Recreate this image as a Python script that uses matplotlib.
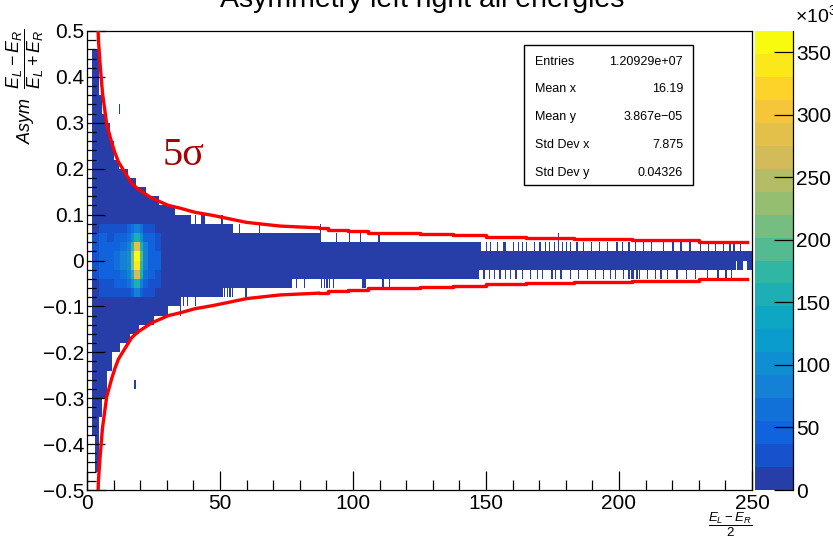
import numpy as np
import matplotlib
matplotlib.use("Agg")
import matplotlib.pyplot as plt
from matplotlib.colors import ListedColormap, BoundaryNorm, LinearSegmentedColormap
from matplotlib.patches import Rectangle

plt.rcParams['font.family'] = ['Liberation Sans', 'DejaVu Sans']
plt.rcParams['mathtext.fontset'] = 'custom'
plt.rcParams['mathtext.rm'] = 'Liberation Sans'
plt.rcParams['mathtext.it'] = 'Liberation Sans:italic'
plt.rcParams['mathtext.bf'] = 'Liberation Sans:bold'

# ---------------- data ----------------
title = "Asymmetry left right all energies"
x_lo, x_hi, x_bin = 0.0, 250.0, 0.5
y_lo, y_hi, y_bin = -0.5, 0.5, 0.02
z_max = 367.0          # colour scale top (x10^3)

# occupied band: upper edge steps (x start, edge value)
top_x = [2.0, 4.3, 5.5, 7.0, 8.6, 10.2, 11.8, 15.5, 18.7, 21.8, 27.0, 33.0, 38.5, 55.0, 88.0, 147.5]
top_y = [0.46, 0.36, 0.32, 0.30, 0.26, 0.22, 0.20, 0.18, 0.16, 0.14, 0.12, 0.10, 0.08, 0.06, 0.04, 0.02]
# lower edge steps
bot_x = [2.0, 2.8, 4.3, 5.5, 7.4, 9.3, 12.4, 16.2, 19.3, 24.9, 30.6, 35.6, 50.7, 76.4, 147.5]
bot_y = [-0.38, -0.46, -0.34, -0.30, -0.24, -0.20, -0.18, -0.16, -0.14, -0.12, -0.10, -0.08, -0.06, -0.04, -0.02]

# isolated one-bin excursions beyond the edges
spike_up_x = [38.8, 40.6, 43.1, 43.6, 44.4, 50.7, 57.2, 64.7, 87.6, 93.5, 98.9, 102.6, 109.8,
              147.7, 150.0, 151.5, 154.0, 156.7, 157.3, 160.3, 162.0, 163.5, 165.4, 168.0,
              170.4, 172.0, 173.6, 175.5, 178.5, 180.0, 181.7, 184.0, 186.7, 189.5, 192.5,
              195.5, 199.0, 201.0, 203.5, 206.0, 209.2, 212.0, 216.5, 220.0, 223.0, 226.5,
              230.5, 233.5, 236.1, 239.0, 241.8, 243.0, 245.5]
tall_up_x = [177.3]
spike_dn_x = [35.2, 36.0, 37.5, 40.6, 50.9, 51.5, 52.5, 53.5, 54.5, 59.6, 76.7, 78.9, 81.6,
              88.3, 89.0, 90.0, 91.0, 92.6, 103.5, 104.0, 104.8, 111.4, 113.9, 149.0, 151.0,
              153.0, 155.3, 157.3, 159.2, 161.0, 163.5, 166.7, 169.2, 171.0, 174.5, 176.0,
              178.0, 181.7, 184.5, 188.0, 191.0, 194.0, 196.5, 198.5, 201.5, 203.7, 204.5,
              205.3, 206.8, 207.5, 210.5, 213.6, 215.5, 218.0, 221.5, 225.0, 228.5, 233.0,
              237.0, 240.0, 242.4]
notch_x = [244.0, 246.5, 247.0, 247.5]
stray_x = [12.0, 17.5, 18.0]
stray_y = [0.33, -0.27, -0.27]
background_k = 5.0

# dense core (counts x10^3): x groups and y rows (bin centres)
hot_x_edges = [2.0, 4.5, 7.5, 10.0, 12.5, 15.0, 16.5, 17.5, 20.0, 21.0, 23.0, 25.5, 28.0]
hot_y_rows = [0.07, 0.05, 0.03, 0.01, -0.01, -0.03, -0.05, -0.07]
hot_counts_k = [
    [10, 30, 25, 25, 30, 40, 60, 90, 60, 35, 25, 15],
    [25, 40, 35, 40, 45, 60, 110, 160, 100, 55, 40, 25],
    [30, 42, 45, 55, 65, 90, 170, 290, 160, 75, 50, 35],
    [30, 42, 50, 60, 75, 110, 220, 355, 190, 85, 55, 38],
    [30, 42, 50, 60, 75, 110, 210, 345, 180, 85, 55, 38],
    [25, 40, 45, 55, 65, 90, 160, 270, 150, 70, 45, 30],
    [10, 30, 35, 40, 45, 60, 100, 150, 90, 50, 35, 20],
    [5, 25, 20, 20, 25, 35, 50, 80, 45, 30, 20, 12],
]

# 5 sigma band half width
red_smooth_x = [4.0, 4.3, 4.9, 5.8, 7.4, 9.3, 10.5, 11.8, 15.5, 16.8, 19.3, 24.3, 30.6, 35.0,
                40.6, 47.5, 60.0, 72.6, 87.6]
red_smooth_h = [0.53, 0.48, 0.43, 0.366, 0.297, 0.257, 0.235, 0.215, 0.18, 0.168, 0.155, 0.136,
                0.12, 0.114, 0.105, 0.098, 0.083, 0.075, 0.071]
red_step_x = [87.6, 90.6, 98.0, 105.6, 115.0, 125.0, 137.6, 150.0, 165.0, 183.0, 205.0, 230.0, 248.0]
red_step_h = [0.071, 0.067, 0.064, 0.061, 0.0595, 0.057, 0.055, 0.052, 0.049, 0.047, 0.045, 0.041, 0.041]

stat_names = ["Entries", "Mean x", "Mean y", "Std Dev x", "Std Dev y"]
stat_values = ["1.20929e+07", "16.19", "3.867e\u221205", "7.875", "0.04326"]

cbar_ticks = [0, 50, 100, 150, 200, 250, 300, 350]
x_ticks = [0, 50, 100, 150, 200, 250]
y_ticks = [-0.5, -0.4, -0.3, -0.2, -0.1, 0.0, 0.1, 0.2, 0.3, 0.4, 0.5]

# ---------------- histogram grid ----------------
xe = np.arange(x_lo, x_hi + x_bin / 2, x_bin)
ye = np.round(np.arange(y_lo, y_hi + y_bin / 2, y_bin), 6)
xc = 0.5 * (xe[:-1] + xe[1:])
yc = 0.5 * (ye[:-1] + ye[1:])
H = np.zeros((len(yc), len(xc)))


def step_val(xs, vs, x):
    idx = np.searchsorted(xs, x, side='right') - 1
    return vs[idx] if idx >= 0 else None


top_at = np.array([step_val(top_x, top_y, v) if v >= top_x[0] else np.nan for v in xc], dtype=float)
bot_at = np.array([step_val(bot_x, bot_y, v) if v >= bot_x[0] else np.nan for v in xc], dtype=float)
for j in range(len(xc)):
    if np.isnan(top_at[j]):
        continue
    sel = (yc < top_at[j]) & (yc > bot_at[j])
    H[sel, j] = background_k


def col_of(x):
    return min(int((x - x_lo) / x_bin), len(xc) - 1)


for sx in spike_up_x:
    j = col_of(sx)
    t = top_at[j]
    H[(yc > t) & (yc < t + y_bin), j] = background_k
for sx in tall_up_x:
    j = col_of(sx)
    t = top_at[j]
    H[(yc > t) & (yc < t + 2 * y_bin), j] = background_k
for sx in spike_dn_x:
    j = col_of(sx)
    b = bot_at[j]
    H[(yc < b) & (yc > b - y_bin), j] = background_k
for sx in notch_x:
    j = col_of(sx)
    H[np.argmin(np.abs(yc + 0.01)), j] = 0
for sx, sy in zip(stray_x, stray_y):
    H[np.argmin(np.abs(yc - sy)), col_of(sx)] = background_k

for r, yr in enumerate(hot_y_rows):
    i = np.argmin(np.abs(yc - yr))
    for g in range(len(hot_x_edges) - 1):
        sel = (xc >= hot_x_edges[g]) & (xc < hot_x_edges[g + 1])
        H[i, sel] = hot_counts_k[r][g]

Hm = np.ma.masked_where(H <= 0, H)

# ---------------- colours (ROOT kBird, 20 contour levels) ----------------
stops = [0.0, 0.125, 0.25, 0.375, 0.5, 0.625, 0.75, 0.875, 1.0]
red = [0.2082, 0.0592, 0.0780, 0.0232, 0.1802, 0.5301, 0.8186, 0.9956, 0.9764]
green = [0.1664, 0.3599, 0.5041, 0.6419, 0.7178, 0.7492, 0.7328, 0.7862, 0.9832]
blue = [0.5293, 0.8684, 0.8385, 0.7914, 0.6425, 0.4662, 0.3499, 0.1968, 0.0539]
bird = LinearSegmentedColormap.from_list('bird', list(zip(stops, zip(red, green, blue))))
nlev = 20
band_cols = [bird(int((i + 0.99) * 255 / nlev) / 254.0) for i in range(nlev)]
cmap = ListedColormap(band_cols)
levels = np.linspace(0, z_max, nlev + 1)
norm = BoundaryNorm(levels, nlev)

# ---------------- figure ----------------
W, Hpx = 833, 539
fig = plt.figure(figsize=(W / 100, Hpx / 100), dpi=100)
L, R, T, B = 87, 752, 31, 490
ax = fig.add_axes([L / W, 1 - B / Hpx, (R - L) / W, (B - T) / Hpx])
ax.pcolormesh(xe, ye, Hm, cmap=cmap, norm=norm, shading='flat')

# 5 sigma curves
sx = np.array(red_smooth_x)
sh = np.array(red_smooth_h)
tx = np.array(red_step_x)
th = np.array(red_step_h)
for sgn in (1, -1):
    ax.plot(sx, sgn * sh, color='#ff0000', lw=2.4, solid_capstyle='butt', zorder=5)
    ax.plot(tx, sgn * th, color='#ff0000', lw=2.4, drawstyle='steps-post', zorder=5)

ax.set_xlim(x_lo, x_hi)
ax.set_ylim(y_lo, y_hi)
ax.set_xticks(x_ticks)
ax.set_xticklabels([f"{v:g}" for v in x_ticks])
ax.set_xticks(np.arange(0, 251, 10), minor=True)
ax.set_yticks(y_ticks)
ax.set_yticklabels([("%g" % v).replace('-', '\u2212') if abs(v) > 1e-9 else "0" for v in y_ticks])
ax.set_yticks(np.round(np.arange(-0.5, 0.501, 0.02), 4), minor=True)
ax.tick_params(which='both', direction='in', top=False, right=False, labelsize=15, width=0.9)
ax.tick_params(axis='y', which='major', length=13, pad=2)
ax.tick_params(axis='y', which='minor', length=6.5)
ax.tick_params(axis='x', which='major', length=14, pad=3)
ax.tick_params(axis='x', which='minor', length=7)
for s in ax.spines.values():
    s.set_linewidth(0.9)

ax.text(28.5, 0.207, "5\u03c3", color='#a80000', fontsize=29,
        family=['Liberation Serif', 'DejaVu Serif'], va='baseline', ha='left')

# colour bar
cax = fig.add_axes([755 / W, 1 - B / Hpx, (793 - 755) / W, (B - T) / Hpx])
cax.pcolormesh([0, 1], levels, np.arange(nlev).reshape(-1, 1), cmap=cmap,
               norm=BoundaryNorm(np.arange(nlev + 1) - 0.5, nlev))
cax.set_xlim(0, 1)
cax.set_ylim(0, z_max)
cax.set_xticks([])
cax.yaxis.tick_right()
cax.set_yticks(cbar_ticks)
cax.set_yticklabels([str(v) for v in cbar_ticks])
cax.tick_params(axis='y', direction='in', length=14, width=0.9, labelsize=15, pad=2)
for k in ('top', 'left', 'bottom'):
    cax.spines[k].set_visible(False)
cax.spines['right'].set_linewidth(0.9)
fig.text(795 / W, 1 - 22 / Hpx, r'$\times10^{3}$', fontsize=14, ha='left', va='baseline')

# stats box
bx0, bx1, by0, by1 = 524, 693, 45, 185
fig.patches.append(Rectangle((bx0 / W, 1 - by1 / Hpx), (bx1 - bx0) / W, (by1 - by0) / Hpx,
                             transform=fig.transFigure, facecolor='white', edgecolor='black',
                             lw=1.0, zorder=10))
row_y = np.linspace(61.7, 172.7, len(stat_names))
for nm, val, yy in zip(stat_names, stat_values, row_y):
    fig.text(535 / W, 1 - yy / Hpx, nm, fontsize=9, ha='left', va='center', zorder=11)
    fig.text(683 / W, 1 - yy / Hpx, val, fontsize=9, ha='right', va='center', zorder=11)

# titles and axis labels
fig.text(422 / W, 1 - 7 / Hpx, title, fontsize=20.5, ha='center', va='baseline')
fig.text(25 / W, 1 - 28 / Hpx, r'$Asym\ \ \dfrac{E_{L}-E_{R}}{E_{L}+E_{R}}$', fontsize=13,
         rotation=90, ha='center', va='top')
fig.text(752 / W, 1 - 511 / Hpx, r'$\dfrac{E_{L}-E_{R}}{2}$', fontsize=9.5, ha='right', va='top')

fig.savefig('out.png', dpi=100)
